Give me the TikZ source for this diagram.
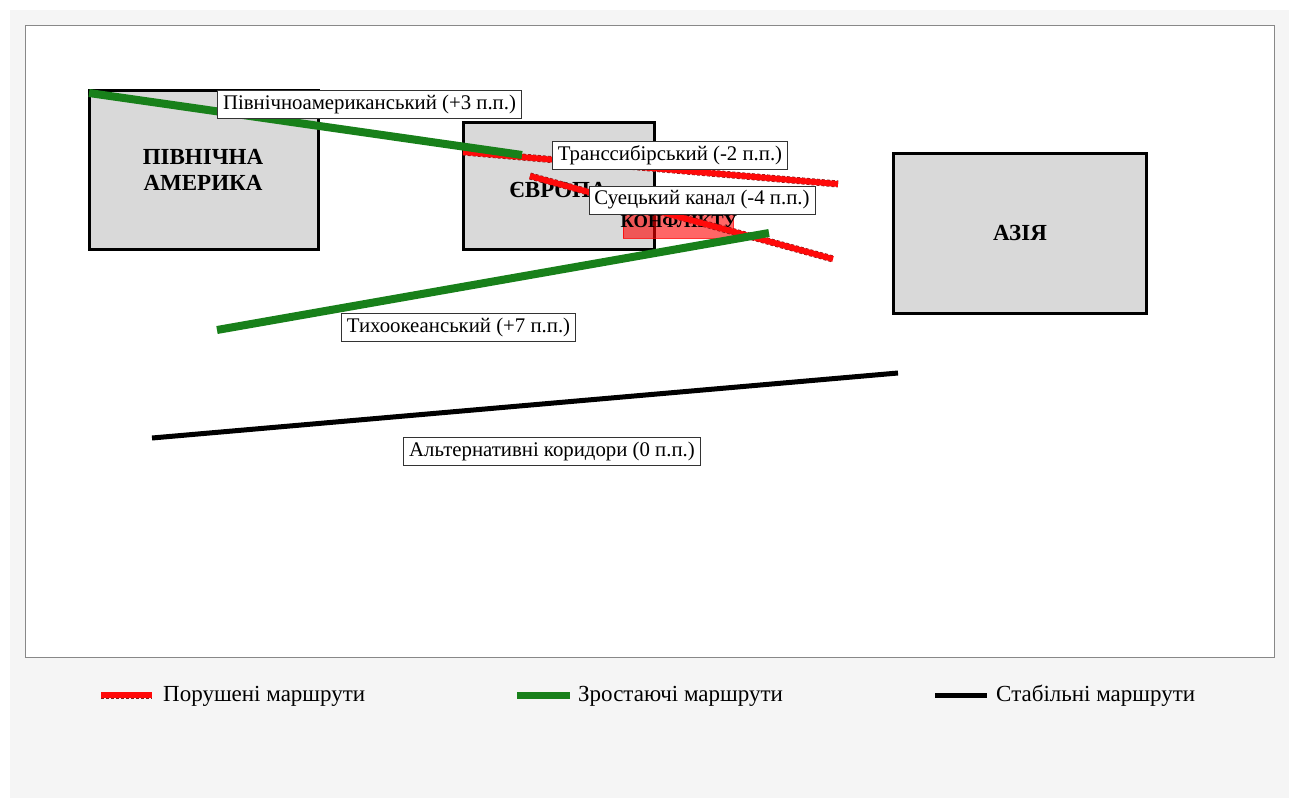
\documentclass[tikz,border=0pt]{standalone}
\usepackage{fontspec}
\setmainfont{Liberation Serif}
\definecolor{pagegray}{HTML}{F5F5F5}
\definecolor{regionfill}{HTML}{D9D9D9}
\definecolor{routegreen}{HTML}{18801A}
\definecolor{routered}{HTML}{FF0A0A}
\definecolor{edgered}{HTML}{8A1A1A}
\definecolor{framegray}{HTML}{888888}
\tikzset{
  region/.style={draw=black, line width=3pt, fill=regionfill, inner sep=0pt},
  regiontext/.style={font=\fontsize{23}{26}\selectfont\bfseries, align=center, text=black},
  disrupted/.style={preaction={draw=edgered, line width=7pt, dash pattern=on 3pt off 2pt},
                    draw=routered, line width=5.8pt},
  growing/.style={draw=routegreen, line width=8pt},
  stable/.style={draw=black, line width=5pt},
  routelabel/.style={draw=black!80, line width=0.8pt, fill=white, inner xsep=5.5pt, inner ysep=4.5pt,
                     font=\fontsize{20.8}{23}\selectfont},
  legendtext/.style={anchor=west, font=\fontsize{23}{25}\selectfont, inner sep=0pt}
}
\begin{document}
\begin{tikzpicture}[x=1pt, y=-1pt]
  \useasboundingbox (0,0) rectangle (1298,798);
  % page and plot frame
  \fill[pagegray] (10,10) rectangle (1289,798);
  \draw[framegray, fill=white, line width=1pt] (25,25) rectangle (1274,657);

  % regions
  \node[region, minimum width=229pt, minimum height=159pt] (na) at (203.5,169.5) {};
  \node[regiontext] at (203,170) {ПІВНІЧНА\\АМЕРИКА};
  \node[region, minimum width=191pt, minimum height=127pt] (eu) at (558.5,185.5) {};
  \node[regiontext] (eutext) at (558,190) {ЄВРОПА};
  \node[region, minimum width=253pt, minimum height=160pt] (as) at (1019.5,233) {};
  \node[regiontext] at (1020,233) {АЗІЯ};

  % conflict zone
  \node[draw=red, fill=red, fill opacity=0.6, draw opacity=0.8, minimum width=110pt,
        minimum height=30pt, inner sep=0pt] (cz) at (678,223) {};
  \node[font=\fontsize{18.5}{20}\selectfont\bfseries, inner sep=0pt] (cztext) at (679,221) {КОНФЛІКТУ};

  % route end points
  \coordinate (naA) at (89,93);   \coordinate (naB) at (522,155);
  \coordinate (tsA) at (463,152); \coordinate (tsB) at (838,184);
  \coordinate (suA) at (530,176); \coordinate (suB) at (833,259);
  \coordinate (paA) at (217,330); \coordinate (paB) at (769,233);
  \coordinate (alA) at (152,438); \coordinate (alB) at (898,373);

  % disrupted routes
  \draw[disrupted] (tsA) -- (tsB);
  \draw[disrupted] (suA) -- (suB);
  % growing routes
  \draw[growing] (naA) -- (naB);
  \draw[growing] (paA) -- (paB);
  % stable route
  \draw[stable] (alA) -- (alB);

  % route labels
  \node[routelabel] (lna) at (369.5,104.5) {Північноамериканський (+3 п.п.)};
  \node[routelabel] (lts) at (670,155.5) {Транссибірський (-2 п.п.)};
  \node[routelabel] (lsu) at (702,200) {Суецький канал (-4 п.п.)};
  \node[routelabel] (lpa) at (458.5,327.5) {Тихоокеанський (+7 п.п.)};
  \node[routelabel] (lal) at (552,451.5) {Альтернативні коридори (0 п.п.)};

  % legend
  \coordinate (k1a) at (101,695); \coordinate (k1b) at (152,695);
  \coordinate (k2a) at (517,695); \coordinate (k2b) at (570,695);
  \coordinate (k3a) at (935,695); \coordinate (k3b) at (987,695);
  \draw[disrupted] (k1a) -- (k1b);
  \draw[growing, line width=7pt] (k2a) -- (k2b);
  \draw[stable] (k3a) -- (k3b);
  \node[legendtext] (t1) at (163,696) {Порушені маршрути};
  \node[legendtext] (t2) at (578,696) {Зростаючі маршрути};
  \node[legendtext] (t3) at (996,696) {Стабільні маршрути};
\end{tikzpicture}
\end{document}
